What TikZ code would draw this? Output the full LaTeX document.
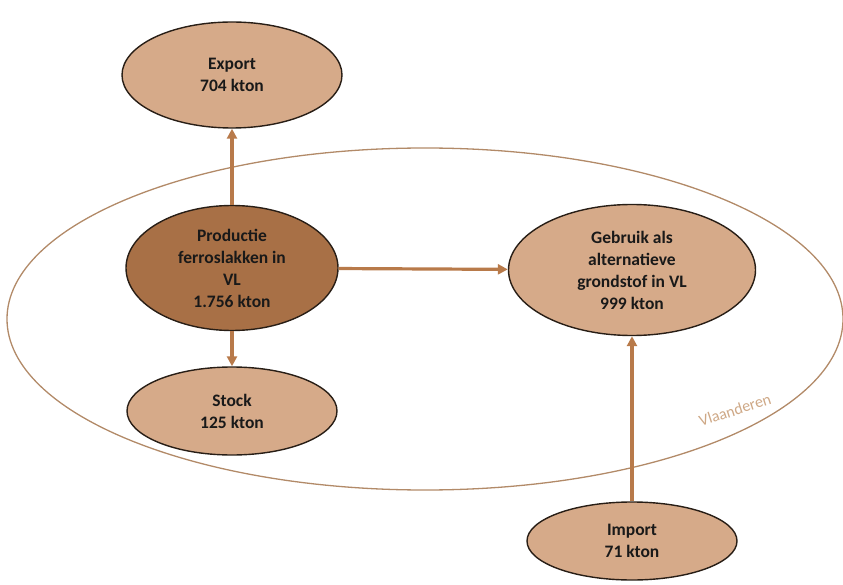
\documentclass[tikz,border=0pt]{standalone}
\usepackage{fontspec}
\setmainfont{Carlito}
\usetikzlibrary{arrows.meta,shapes.geometric,backgrounds}
\definecolor{flowcol}{RGB}{184,122,74}
\definecolor{stockcol}{RGB}{214,170,137}
\definecolor{prodcol}{RGB}{168,112,70}
\definecolor{edgecol}{RGB}{40,30,22}
\definecolor{regioncol}{RGB}{178,138,104}
\definecolor{vlcol}{RGB}{206,168,134}

\begin{document}
\begin{tikzpicture}[x=1pt,y=-1pt,
  font=\fontsize{17.5}{22}\selectfont\bfseries,
  blob/.style={ellipse,draw=edgecol,line width=1.4pt,fill=stockcol,align=center,
    inner sep=0pt,text=black!90},
  prod/.style={blob,fill=prodcol},
  region/.style={ellipse,draw=regioncol,line width=1.3pt,inner sep=0pt},
  flow/.style={draw=flowcol,line width=3.2pt,-{Triangle[length=10pt,width=10pt]}}]
\useasboundingbox (0,0) rectangle (843,585);
\node[blob,minimum width=220pt,minimum height=106pt] (export) at (232,75) {Export\\704 kton};
\node[prod,minimum width=212pt,minimum height=125pt] (productie) at (232,268) {Productie\\ferroslakken in\\VL\\1.756 kton};
\node[blob,minimum width=210pt,minimum height=88pt] (stock) at (232,411) {Stock\\125 kton};
\node[blob,minimum width=247pt,minimum height=131pt] (gebruik) at (632,270) {Gebruik als\\alternatieve\\grondstof in VL\\999 kton};
\node[blob,minimum width=210pt,minimum height=78pt] (import) at (632,541) {Import\\71 kton};
\draw[flow] (productie) -- (export);
\draw[flow] (productie) -- (stock);
\draw[flow] (productie) -- (gebruik);
\draw[flow] (import) -- (gebruik);
\begin{scope}[on background layer]
\node[region,minimum width=836pt,minimum height=342pt] (vl) at (425,319) {};
\node[font=\fontsize{16}{19}\selectfont,text=vlcol,rotate=18] (vllabel) at (735,410) {Vlaanderen};
\end{scope}
\end{tikzpicture}
\end{document}
